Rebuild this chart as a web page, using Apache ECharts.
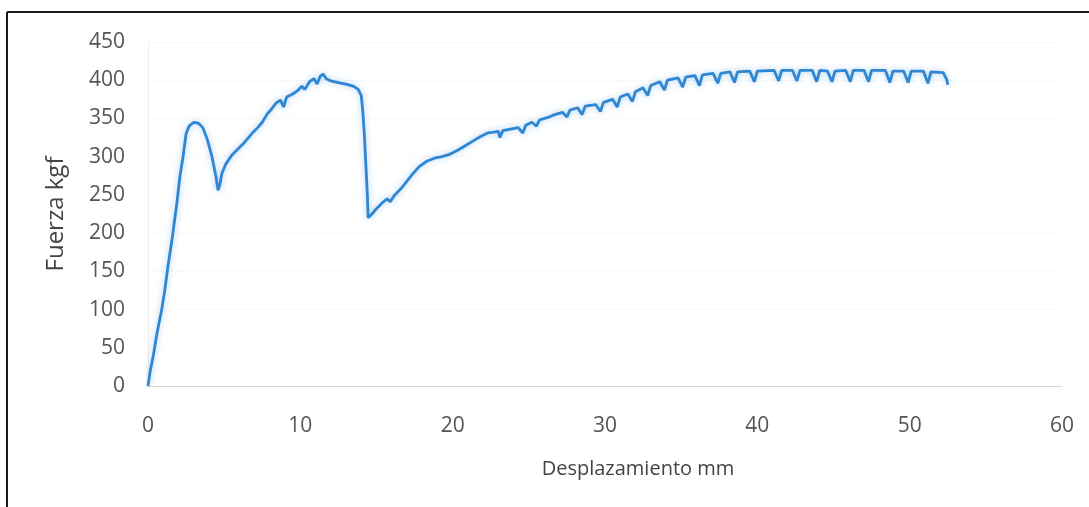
<!DOCTYPE html>
<html>
<head>
<meta charset="utf-8">
<title>Fuerza vs desplazamiento</title>
<script src="https://cdn.jsdelivr.net/npm/echarts@6/dist/echarts.min.js"></script>
<style>
  html, body { margin: 0; padding: 0; background: #fff; }
  #chart { width: 1089px; height: 507px; }
</style>
</head>
<body>
<div id="chart"></div>
<script>
// ensayo: desplazamiento (mm) y fuerza (kgf)
const desplazamiento = [
  0, 0.15, 0.35, 0.6, 0.9, 1.1, 1.3, 1.6, 1.9, 2.1, 2.3, 2.5, 2.7, 3.0, 3.3, 3.6, 3.9, 4.2, 4.45, 4.6,
  4.7, 4.85, 5.1, 5.5, 5.9, 6.3, 6.6, 6.9, 7.2, 7.5, 7.8, 8.1, 8.4, 8.7, 8.9, 9.1, 9.5, 9.8, 10.1, 10.3,
  10.6, 10.9, 11.1, 11.3, 11.5, 11.7, 12.0, 12.5, 13.0, 13.5, 13.8, 14.0, 14.1, 14.2, 14.3, 14.4, 14.45, 14.7, 15.0, 15.4,
  15.7, 15.9, 16.2, 16.6, 17.0, 17.4, 17.8, 18.3, 18.8, 19.3, 19.8, 20.3, 20.8, 21.3, 21.8, 22.3, 22.7, 23.0, 23.1, 23.3,
  23.8, 24.3, 24.6, 24.8, 25.2, 25.5, 25.7, 26.2, 26.7, 27.2, 27.5, 27.7,
  28.2, 28.5, 28.7, 29.4, 29.7, 29.9, 30.5, 30.8, 31.0, 31.5, 31.8, 32.0, 32.5, 32.8, 33.0,
  33.6, 33.9, 34.1, 34.8, 35.1, 35.3, 35.9, 36.2, 36.4, 37.1, 37.4, 37.6, 38.2, 38.5, 38.7,
  39.5, 39.8, 40.0, 41.1, 41.4, 41.6, 42.3, 42.6, 42.8, 43.6, 43.9, 44.1, 44.6, 44.9, 45.1,
  45.8, 46.1, 46.3, 47.0, 47.3, 47.5, 48.4, 48.7, 48.9, 49.6, 49.9, 50.1, 50.9, 51.2, 51.4,
  52.2, 52.45, 52.5
];
const fuerza = [
  0, 20, 40, 70, 100, 125, 155, 195, 240, 275, 300, 330, 340, 345, 344, 338, 322, 300, 275, 256,
  262, 278, 290, 302, 310, 318, 325, 332, 338, 345, 355, 362, 370, 374, 365, 378, 382, 386, 392, 388,
  398, 402, 395, 405, 408, 402, 399, 397, 395, 392, 388, 380, 360, 330, 290, 250, 220, 225, 232, 240,
  245, 241, 250, 258, 268, 278, 287, 294, 298, 300, 303, 308, 314, 320, 326, 331, 332, 333, 325, 334,
  336, 338, 331, 341, 345, 340, 348, 351, 355, 358, 352, 361,
  364, 355, 366, 368, 359, 371, 375, 365, 378, 382, 372, 385, 390, 380, 393,
  398, 387, 400, 403, 391, 404, 406, 393, 407, 409, 396, 409, 411, 397, 411,
  412, 398, 412, 413, 399, 413, 413, 399, 413, 413, 398, 413, 412, 398, 412,
  413, 398, 413, 413, 398, 413, 413, 397, 412, 412, 397, 412, 412, 396, 411,
  410, 400, 394
];
const xTicks = [0, 60, 10];   // min, max, intervalo
const yTicks = [0, 450, 50];

const chart = echarts.init(document.getElementById('chart'));
const font = '"Open Sans", "DejaVu Sans", sans-serif';

chart.setOption({
  animation: false,
  backgroundColor: '#ffffff',
  grid: { left: 148, right: 27, top: 42, bottom: 121 },
  graphic: [
    { type: 'line', shape: { x1: 7, y1: 12, x2: 1089, y2: 12 }, style: { stroke: '#1a1a1a', lineWidth: 2 } },
    { type: 'line', shape: { x1: 7, y1: 12, x2: 7, y2: 507 }, style: { stroke: '#1a1a1a', lineWidth: 2 } }
  ],
  xAxis: {
    type: 'value',
    min: xTicks[0], max: xTicks[1], interval: xTicks[2],
    name: 'Desplazamiento mm',
    nameLocation: 'middle',
    nameGap: 73,
    nameTextStyle: { fontFamily: font, fontSize: 20, color: '#444', padding: [0, 0, 0, 66] },
    axisLine: { show: true, lineStyle: { color: '#d9d9d9', width: 1 } },
    axisTick: { show: false },
    axisLabel: { margin: 30, fontFamily: font, fontSize: 21, color: '#555' },
    splitLine: { show: false }
  },
  yAxis: {
    type: 'value',
    min: yTicks[0], max: yTicks[1], interval: yTicks[2],
    name: 'Fuerza kgf',
    nameLocation: 'middle',
    nameGap: 80,
    nameTextStyle: { fontFamily: font, fontSize: 24, color: '#444' },
    axisLine: { show: true, lineStyle: { color: '#eeeeee', width: 1 } },
    axisTick: { show: false },
    axisLabel: { margin: 23, fontFamily: font, fontSize: 21, color: '#555' },
    splitLine: { show: true, lineStyle: { color: '#f2f2f2', type: 'dotted', width: 1 } }
  },
  series: [{
    type: 'line',
    data: desplazamiento.map((x, i) => [x, fuerza[i]]),
    showSymbol: false,
    lineStyle: {
      color: '#2f86d2',
      width: 2.8,
      shadowColor: 'rgba(91,160,225,0.55)',
      shadowBlur: 6
    }
  }]
});
</script>
</body>
</html>
